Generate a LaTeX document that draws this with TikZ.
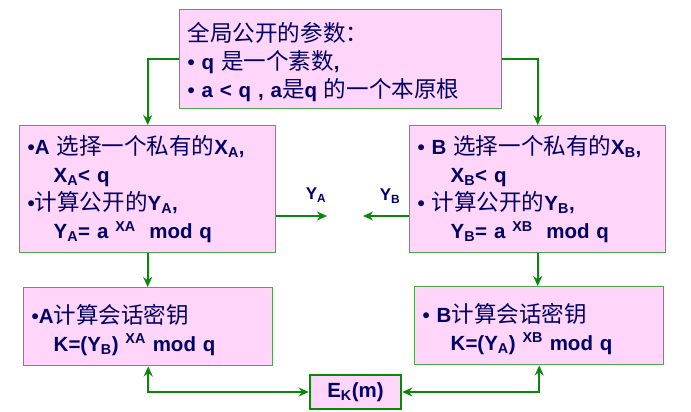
\documentclass[tikz,border=0pt]{standalone}
\usepackage{fontspec}
\setmainfont{Liberation Sans}
\newfontfamily\cjk{Noto Sans CJK SC}[Scale=1.1]
\usepackage{xcolor}
\usetikzlibrary{arrows.meta, positioning}
\definecolor{navy}{HTML}{000066}
\definecolor{boxpink}{HTML}{FFD5FA}
\definecolor{boxgreen}{HTML}{4EA64E}
\definecolor{flowgreen}{HTML}{0A870A}
\newcommand{\zh}[1]{{\mdseries\cjk #1}}
\newcommand{\lsub}[1]{\textsubscript{#1}}
\newcommand{\lsup}[1]{\textsuperscript{#1}}
\newcommand{\topgap}{\rule{0pt}{25pt}}

\begin{document}
\begin{tikzpicture}[x=1pt, y=-1pt,
    infobox/.style={draw=boxgreen, line width=1.4pt, fill=boxpink, text=navy,
        align=left, anchor=north west, inner xsep=8pt,
        font=\fontsize{20.5}{28}\selectfont\bfseries},
    keybox/.style={draw=flowgreen, line width=2.6pt, fill=boxpink, text=navy,
        minimum width=91, minimum height=34, inner sep=2pt,
        font=\fontsize{20.5}{22}\selectfont\bfseries},
    lbl/.style={text=navy, inner sep=1pt, font=\fontsize{17}{18}\selectfont\bfseries},
    flow/.style={draw=flowgreen, line width=2.2pt},
    >={Stealth[length=10pt, width=9pt]}]
    \useasboundingbox (0,0) rectangle (691,412);

    % 公开参数
    \node[infobox, minimum height=99, text width=306] (param) at (179,9)
        {\topgap\zh{全局公开的参数：}\\
         • q \zh{是一个素数},\\
         • a < q , a\zh{是}q \zh{的一个本原根}};

    % A、B 各自选择私钥并计算公开值
    \node[infobox, minimum height=127, text width=240] (selA) at (19,125)
        {•A \zh{选择一个私有的}X\lsub{A},\\
         \hspace*{26pt}X\lsub{A}< q\\
         •\zh{计算公开的}Y\lsub{A},\\
         \hspace*{26pt}Y\lsub{A}= a \lsup{XA}\ \ mod q};
    \node[infobox, minimum height=127, text width=240] (selB) at (409,125)
        {• B \zh{选择一个私有的}X\lsub{B},\\
         \hspace*{33pt}X\lsub{B}< q\\
         • \zh{计算公开的}Y\lsub{B},\\
         \hspace*{33pt}Y\lsub{B}= a \lsup{XB}\ \ mod q};

    % 会话密钥
    \node[infobox, minimum height=78, text width=233] (keyA) at (23,287)
        {\topgap•A\zh{计算会话密钥}\\
         \hspace*{22pt}K=(Y\lsub{B}) \lsup{XA} mod q};
    \node[infobox, minimum height=78, text width=233] (keyB) at (414,286)
        {\topgap• B\zh{计算会话密钥}\\
         \hspace*{28pt}K=(Y\lsub{A}) \lsup{XB} mod q};

    \node[keybox] (enc) at (355.5,392) {E\lsub{K}(m)};

    % 交换 Y_A, Y_B
    \coordinate (yaEnd) at (327,216);
    \coordinate (ybEnd) at (363,216);
    \node[lbl] (ya) at (316,195) {Y\lsub{A}};
    \node[lbl] (yb) at (390,196) {Y\lsub{B}};

    \draw[flow, ->] (param.west) -| (selA.north);
    \draw[flow, ->] (param.east) -| (selB.north);
    \draw[flow, ->] (selA.east |- yaEnd) -- (yaEnd);
    \draw[flow, ->] (selB.west |- ybEnd) -- (ybEnd);
    \draw[flow, ->] (selA.south) -- (selA.south |- keyA.north);
    \draw[flow, ->] (selB.south) -- (selB.south |- keyB.north);
    \draw[flow, <->] (keyA.south) |- (enc.west);
    \draw[flow, <->] (keyB.south) |- (enc.east);
\end{tikzpicture}
\end{document}
